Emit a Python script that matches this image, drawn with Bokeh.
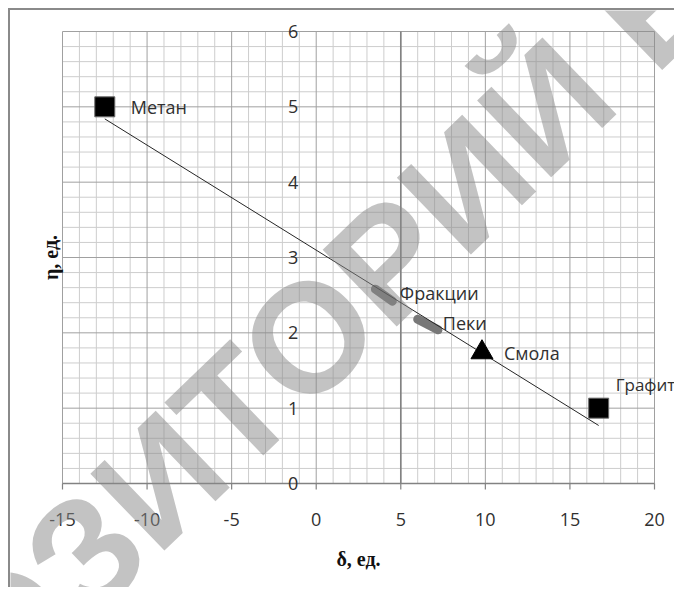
from bokeh.plotting import figure
from bokeh.models import Range1d, Label
from bokeh.core.properties import value
from bokeh.embed import file_html
from bokeh.resources import INLINE

# --- data -----------------------------------------------------------------
# point substances (δ, η)
methane_x = [-12.5]
methane_y = [5.0]
graphite_x = [16.7]
graphite_y = [1.0]
resin_x = [9.8]
resin_y = [1.74]

# substances given as short ranges
fractions_x = [3.5, 4.5]
fractions_y = [2.58, 2.42]
pitches_x = [6.0, 7.2]
pitches_y = [2.18, 2.04]

# linear trend through the substances
trend_x = [-12.5, 16.7]
trend_y = [4.84, 0.77]

x_ticks = [-15, -10, -5, 0, 5, 10, 15, 20]
x_tick_labels = ["-15", "-10", "-5", "0", "5", "10", "15", "20"]
x_minor = list(range(-15, 21))
y_ticks = [0, 1, 2, 3, 4, 5, 6]
y_tick_labels = ["0", "1", "2", "3", "4", "5", "6"]
y_minor = [round(i * 0.2, 1) for i in range(0, 31)]

X0, X1 = -15, 20
Y0, Y1 = 0, 6
y_axis_cross = 5      # vertical value axis crosses δ = 5
y_label_anchor = 0    # y tick labels sit just left of δ = 0

# --- canvas geometry (pixels) -----------------------------------------------
W, H = 666, 579
PL, PR, PT, PB = 52, 644, 21, 473          # plot area edges inside the canvas
sx = (PR - PL) / (X1 - X0)
sy = (PB - PT) / (Y1 - Y0)
x_range = Range1d(X0 - PL / sx, X1 + (W - PR) / sx)
y_range = Range1d(Y0 - (H - PB) / sy, Y1 + PT / sy)

FONT = value("Open Sans")
SERIF = value("Liberation Serif")
TXT = "#303030"
MINOR = "#cdcdcd"
MAJOR = "#a0a0a0"
AXIS = "#828282"

p = figure(width=W, height=H, x_range=x_range, y_range=y_range,
           x_axis_location=None, y_axis_location=None,
           output_backend="svg", toolbar_location=None,
           min_border=0)
p.styles = {"margin-left": "8px", "margin-top": "8px",
            "border-left": "2px solid #8a8a8a", "border-top": "2px solid #8a8a8a"}
p.grid.visible = False
p.outline_line_color = None
p.background_fill_color = "white"
p.border_fill_color = "white"

# --- grid -------------------------------------------------------------------
vx_minor = [v for v in x_minor if v not in x_ticks]
hy_minor = [v for v in y_minor if v not in y_ticks]
p.segment(x0=vx_minor, y0=[Y0] * len(vx_minor), x1=vx_minor, y1=[Y1] * len(vx_minor),
          line_color=MINOR, line_width=1)
p.segment(x0=[X0] * len(hy_minor), y0=hy_minor, x1=[X1] * len(hy_minor), y1=hy_minor,
          line_color=MINOR, line_width=1)
p.segment(x0=x_ticks, y0=[Y0] * len(x_ticks), x1=x_ticks, y1=[Y1] * len(x_ticks),
          line_color=MAJOR, line_width=1)
p.segment(x0=[X0] * len(y_ticks), y0=y_ticks, x1=[X1] * len(y_ticks), y1=y_ticks,
          line_color=MAJOR, line_width=1)

# axes: horizontal at η = 0 with outward ticks, vertical at δ = 5
tick_len = 6 / sy
p.segment(x0=[X0], y0=[Y0], x1=[X1], y1=[Y0], line_color=AXIS, line_width=1.5)
p.segment(x0=x_ticks, y0=[Y0] * len(x_ticks), x1=x_ticks, y1=[Y0 - tick_len] * len(x_ticks),
          line_color=AXIS, line_width=1.2)
p.segment(x0=[y_axis_cross], y0=[Y0], x1=[y_axis_cross], y1=[Y1],
          line_color=AXIS, line_width=1.6)

# tick labels
p.text(x=x_ticks, y=[Y0] * len(x_ticks), text=x_tick_labels, y_offset=36,
       text_align="center", text_baseline="middle",
       text_font=FONT, text_font_size="18px", text_color=TXT)
p.text(x=[y_label_anchor] * len(y_ticks), y=y_ticks, text=y_tick_labels, x_offset=-18,
       text_align="right", text_baseline="middle",
       text_font=FONT, text_font_size="18px", text_color=TXT)

# axis titles
p.text(x=[(X0 + X1) / 2], y=[Y0], text=["δ, ед."], y_offset=75,
       text_align="center", text_baseline="middle",
       text_font=SERIF, text_font_style="bold",
       text_font_size="20px", text_color="#111111")
p.text(x=[X0], y=[(Y0 + Y1) / 2], text=["η, ед."], x_offset=-12, angle=1.5708,
       text_align="center", text_baseline="middle",
       text_font=SERIF, text_font_style="bold",
       text_font_size="20px", text_color="#111111")

# --- data marks ---------------------------------------------------------------
p.line(fractions_x, fractions_y, line_color="#787878", line_width=9, line_cap="round")
p.line(pitches_x, pitches_y, line_color="#787878", line_width=9, line_cap="round")

p.line(trend_x, trend_y, line_color="#262626", line_width=1)

p.scatter(methane_x, methane_y, marker="square", size=20,
          fill_color="black", line_color="#6a6a6a", line_width=1)
p.scatter(graphite_x, graphite_y, marker="square", size=20,
          fill_color="black", line_color="#6a6a6a", line_width=1)
p.scatter(resin_x, resin_y, marker="triangle", size=22,
          fill_color="black", line_color="black", line_width=1)

# data labels (offsets in screen pixels, +y downward)
def tag(text, x, y, dx, dy, size="18px"):
    p.text(x=[x], y=[y], text=[text], x_offset=dx, y_offset=dy,
           text_align="left", text_baseline="middle",
           text_font=FONT, text_font_size=size, text_color=TXT)

tag("Метан", methane_x[0], methane_y[0], 26, 0)
tag("Фракции", sum(fractions_x) / 2, sum(fractions_y) / 2, 16, -2)
tag("Пеки", sum(pitches_x) / 2, sum(pitches_y) / 2, 15, -2)
tag("Смола", resin_x[0], resin_y[0], 22, 1)
tag("Графит", graphite_x[0], graphite_y[0], 17, -24, "17px")

# repository watermark across the chart
p.add_layout(Label(x=306, y=260, x_units="screen", y_units="screen",
                   text="РЕПОЗИТОРИЙ БГТУ", angle=44, angle_units="deg",
                   text_align="center", text_baseline="middle",
                   text_font="Liberation Sans", text_font_style="bold",
                   text_font_size="155px", text_color="#888888", text_alpha=0.5,
                   level="overlay"))

open("out.html", "w").write(file_html(p, INLINE))
